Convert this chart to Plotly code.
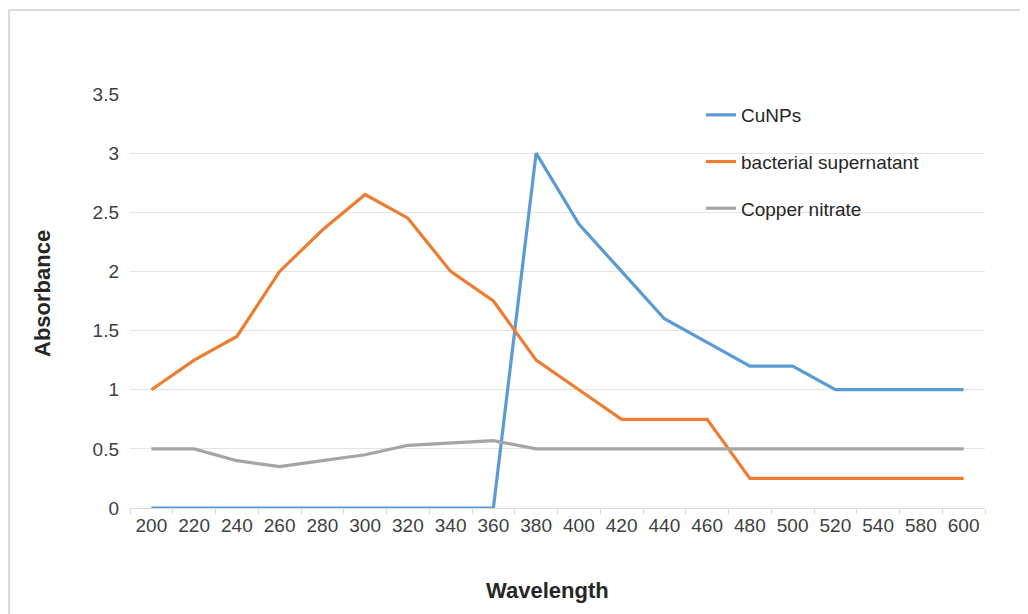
import plotly.graph_objects as go

wavelengths = ["200", "220", "240", "260", "280", "300", "320", "340", "360", "380",
               "400", "420", "440", "460", "480", "500", "520", "540", "580", "600"]
cunps = [0, 0, 0, 0, 0, 0, 0, 0, 0, 3.0, 2.4, 2.0, 1.6, 1.4, 1.2, 1.2, 1.0, 1.0, 1.0, 1.0]
bacterial = [1.0, 1.25, 1.45, 2.0, 2.35, 2.65, 2.45, 2.0, 1.75, 1.25, 1.0, 0.75, 0.75, 0.75,
             0.25, 0.25, 0.25, 0.25, 0.25, 0.25]
copper_nitrate = [0.5, 0.5, 0.4, 0.35, 0.4, 0.45, 0.53, 0.55, 0.57, 0.5, 0.5, 0.5, 0.5, 0.5,
                  0.5, 0.5, 0.5, 0.5, 0.5, 0.5]
y_ticks = [0, 0.5, 1, 1.5, 2, 2.5, 3, 3.5]
y_tick_labels = ["0", "0.5", "1", "1.5", "2", "2.5", "3", "3.5"]

# page body has an 8px margin, so the figure is drawn 8px smaller
W, H = 1020, 606
L, R, T, B = 122, 43, 86, 106
pw, ph = W - L - R, H - T - B

fig = go.Figure()
series = [("CuNPs", cunps, "#5b9bd5"),
          ("bacterial supernatant", bacterial, "#ed7d31"),
          ("Copper nitrate", copper_nitrate, "#a5a5a5")]
for name, vals, col in series:
    fig.add_trace(go.Scatter(x=wavelengths, y=vals, name=name, mode="lines",
                             legendgroup=name, cliponaxis=False,
                             line=dict(color=col, width=3.2)))

def px_x(p):
    return (p - L) / pw

def px_y(p):
    return (H - B - p) / ph

fig.update_layout(
    width=W, height=H,
    margin=dict(l=L, r=R, t=T, b=B),
    paper_bgcolor="white", plot_bgcolor="white",
    font=dict(family="Liberation Sans, Arial, sans-serif", size=19, color="#404040"),
    showlegend=True,
    legend=dict(x=px_x(693), y=px_y(88), xanchor="left", yanchor="top",
                traceorder="grouped", tracegroupgap=19,
                font=dict(size=19, color="#262626"), bgcolor="rgba(0,0,0,0)"),
    xaxis=dict(type="category", range=[-0.5, 19.5], showgrid=False,
               showline=True, linecolor="#d9d9d9", linewidth=1, layer="below traces",
               ticks="outside", tickson="boundaries", ticklen=5, tickcolor="#d9d9d9",
               tickfont=dict(size=19, color="#404040")),
    yaxis=dict(range=[0, 3.5], tickvals=y_ticks, ticktext=y_tick_labels,
               showgrid=True, gridcolor="#e4e4e4", gridwidth=1, zeroline=False,
               showline=False, ticks="", ticklen=0, ticklabelstandoff=10,
               layer="below traces",
               tickfont=dict(size=19, color="#404040")),
    annotations=[
        dict(text="<b>Wavelength</b>", xref="paper", yref="paper",
             x=px_x(539), y=px_y(582), xanchor="center", yanchor="middle",
             showarrow=False, font=dict(size=22, color="#262626")),
        dict(text="<b>Absorbance</b>", xref="paper", yref="paper",
             x=px_x(34), y=px_y(286), xanchor="center", yanchor="middle",
             textangle=-90, showarrow=False, font=dict(size=22, color="#262626")),
    ],
    shapes=[
        dict(type="line", xref="paper", yref="paper",
             x0=px_x(1), x1=px_x(1), y0=px_y(606), y1=px_y(2),
             line=dict(color="#d9d9d9", width=2)),
        dict(type="line", xref="paper", yref="paper",
             x0=px_x(1), x1=px_x(1020), y0=px_y(2), y1=px_y(2),
             line=dict(color="#d9d9d9", width=2)),
    ],
)

fig.write_html("out.html")
